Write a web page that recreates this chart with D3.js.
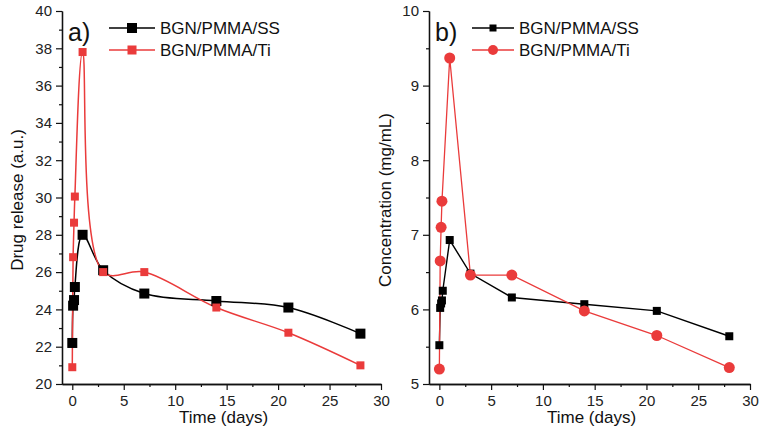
<!DOCTYPE html>
<html><head><meta charset="utf-8">
<script src="https://cdn.jsdelivr.net/npm/d3@7"></script>
<style>body{margin:0;background:#fff}svg{display:block;font-family:"Liberation Sans",Arial,sans-serif}</style>
</head><body><svg id="c" width="766" height="441"></svg>
<script>
// ---- data ----
const timeA = [0, 0.08, 0.17, 0.25, 1, 3, 7, 14, 21, 28];
const releaseSS = [22.2, 24.2, 24.5, 25.2, 28.0, 26.1, 24.85, 24.45, 24.1, 22.7];
const releaseTi = [20.9, 26.8, 28.65, 30.05, 37.8, 26.0, 26.0, 24.1, 22.75, 21.0];
const timeBSS = [0, 0.08, 0.17, 0.25, 0.33, 1, 3, 7, 14, 21, 28];
const concSS = [5.52, 6.02, 6.08, 6.12, 6.25, 6.93, 6.48, 6.16, 6.07, 5.98, 5.64];
const timeBTi = [0, 0.08, 0.17, 0.25, 1, 3, 7, 14, 21, 28];
const concTi = [5.2, 6.65, 7.1, 7.45, 9.37, 6.46, 6.46, 5.98, 5.65, 5.22];
const xTicks = [0, 5, 10, 15, 20, 25, 30];
const yTicksA = [20, 22, 24, 26, 28, 30, 32, 34, 36, 38, 40];
const yTicksB = [5, 6, 7, 8, 9, 10];
const seriesNames = ["BGN/PMMA/SS", "BGN/PMMA/Ti"];

const RED = "#ea3b3b";
const svg = d3.select("#c");
const Y0 = 384, Y1 = 11;

function panel(opt) {
  const g = svg.append("g");
  const x = d3.scaleLinear().domain([-1, 30]).range([opt.x0, opt.x1]);
  const y = d3.scaleLinear().domain(opt.ydom).range([Y0, Y1]);
  g.append("g").attr("transform", `translate(0,${Y0})`)
    .call(d3.axisBottom(x).tickValues(xTicks).tickSize(6).tickSizeOuter(0).tickPadding(5));
  g.append("g").attr("transform", `translate(0,${Y0})`)
    .call(d3.axisBottom(x).tickValues(d3.range(2.5, 30, 5)).tickSize(3).tickSizeOuter(0).tickFormat(""));
  g.append("g").attr("transform", `translate(${opt.x0},0)`)
    .call(d3.axisLeft(y).tickValues(opt.yticks).tickSize(6).tickSizeOuter(0).tickPadding(4).tickFormat(d3.format("d")));
  g.append("g").attr("transform", `translate(${opt.x0},0)`)
    .call(d3.axisLeft(y).tickValues(opt.yminor).tickSize(3).tickSizeOuter(0).tickFormat(""));
  g.selectAll(".domain").attr("stroke", "#111").attr("stroke-width", 1.3);
  g.selectAll(".tick line").attr("stroke", "#111").attr("stroke-width", 1.2);
  g.selectAll(".tick text").attr("font-size", 15).attr("fill", "#222")
    .attr("font-family", "Liberation Sans, Arial, sans-serif");
  g.append("text").attr("x", (opt.x0 + opt.x1) / 2 + 2).attr("y", 423).attr("text-anchor", "middle")
    .attr("font-size", 17).attr("fill", "#111").text("Time (days)");
  g.append("text").attr("transform", `translate(${opt.ytx},${opt.yty}) rotate(-90)`).attr("text-anchor", "middle")
    .attr("font-size", 17).attr("fill", "#111").text(opt.ytitle);
  g.append("text").attr("x", opt.x0 + 6).attr("y", 41).attr("font-size", 25).attr("fill", "#111").text(opt.label);

  const line = d3.line().x(d => x(d[0])).y(d => y(d[1])).curve(opt.curve);
  opt.series.forEach(s => {
    const pts = s.t.map((t, i) => [t, s.v[i]]);
    g.append("path").datum(pts).attr("fill", "none").attr("stroke", s.color).attr("stroke-width", s.lw).attr("d", line);
  });
  opt.series.forEach(s => {
    const pts = s.t.map((t, i) => [t, s.v[i]]);
    drawMarkers(g, pts.map(p => [x(p[0]), y(p[1])]), s, s.size);
  });
  opt.series.forEach((s, i) => {
    const ly = 28 + i * 22;
    g.append("line").attr("x1", opt.lx).attr("x2", opt.lx + opt.lw).attr("y1", ly).attr("y2", ly)
      .attr("stroke", s.color).attr("stroke-width", s.lw);
    drawMarkers(g, [[opt.lx + opt.lw / 2, ly]], s, s.lsize);
    g.append("text").attr("x", opt.lx + opt.lw + 5).attr("y", ly + 6).attr("font-size", 17).attr("fill", "#111").text(seriesNames[i]);
  });
}
function drawMarkers(g, pts, s, size) {
  if (s.shape === "circle") {
    g.selectAll(null).data(pts).enter().append("circle").attr("cx", d => d[0]).attr("cy", d => d[1])
      .attr("r", size / 2).attr("fill", s.color);
  } else {
    g.selectAll(null).data(pts).enter().append("rect").attr("x", d => d[0] - size / 2).attr("y", d => d[1] - size / 2)
      .attr("width", size).attr("height", size).attr("fill", s.color);
  }
}

panel({
  x0: 62, x1: 381, ydom: [20, 40], yticks: yTicksA, yminor: d3.range(21, 40, 2),
  ytitle: "Drug release (a.u.)", ytx: 23, yty: 200, label: "a)", curve: d3.curveCatmullRom.alpha(0.5),
  lx: 109, lw: 46,
  series: [
    {t: timeA, v: releaseSS, color: "#000", lw: 1.5, shape: "square", size: 10, lsize: 10},
    {t: timeA, v: releaseTi, color: RED, lw: 1.5, shape: "square", size: 8, lsize: 9}
  ]
});
panel({
  x0: 429, x1: 750, ydom: [5, 10], yticks: yTicksB, yminor: d3.range(5.5, 10, 1),
  ytitle: "Concentration (mg/mL)", ytx: 391, yty: 200, label: "b)", curve: d3.curveLinear,
  lx: 472, lw: 42,
  series: [
    {t: timeBSS, v: concSS, color: "#000", lw: 1.4, shape: "square", size: 8, lsize: 7},
    {t: timeBTi, v: concTi, color: RED, lw: 1.3, shape: "circle", size: 11, lsize: 10}
  ]
});
</script></body></html>
